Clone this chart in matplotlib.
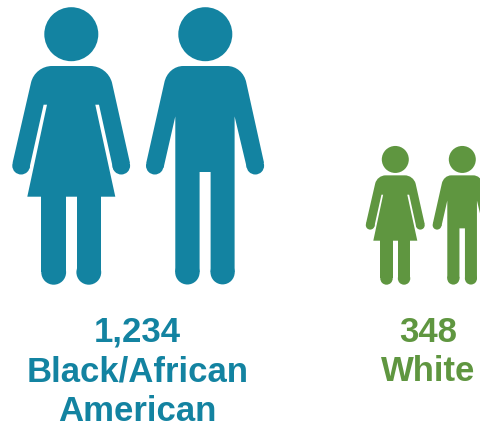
import matplotlib
matplotlib.use("Agg")
import matplotlib.pyplot as plt
from matplotlib.path import Path
from matplotlib.patches import PathPatch, Circle
from matplotlib.transforms import Affine2D

categories = ["Black/African\nAmerican", "White"]
counts = [1234, 348]
colors = ["#1383A1", "#5F9640"]
icon_scale = [1.0, 0.5]
icon_left = [0.0, 359.5]

BASE = 285.0
SHIFT = 0.7
M, L, C, Z = Path.MOVETO, Path.LINETO, Path.CURVE4, Path.CLOSEPOLY


def to_local(pts):
    return [(x, y - BASE) for x, y in pts]


woman_body = [
    (M, (51.7, 66.3)), (L, (90, 66.3)),
    (C, (100, 66.3)), (C, (109, 73)), (C, (111.7, 83)),
    (L, (129.6, 163)), (L, (113, 170)), (L, (98.7, 105)), (L, (95, 105)),
    (L, (115, 197)), (L, (27, 197)), (L, (46.7, 105)), (L, (43.3, 105)),
    (L, (29, 169)), (L, (12.3, 163)), (L, (30.7, 83)),
    (C, (33, 73)), (C, (42, 66.3)), (C, (51.7, 66.3)),
]
woman_legs = [
    (M, (41, 190)), (L, (65.8, 190)), (L, (65.8, 272.5)), (L, (41, 272.5)), (L, (41, 190)),
    (M, (76.3, 190)), (L, (100.8, 190)), (L, (100.8, 272.5)), (L, (76.3, 272.5)), (L, (76.3, 190)),
]
woman_round = [((71, 34.5), 27), ((20.8, 166), 8.8), ((121, 166), 8.8),
               ((53.4, 272.6), 12.4), ((88.5, 272.6), 12.4)]

man_body = [
    (M, (183, 66.3)), (L, (226.7, 66.3)),
    (C, (236, 66.3)), (C, (244, 73)), (C, (246, 83)),
    (L, (263.7, 163)), (L, (246.5, 168)), (L, (234.3, 116.7)),
    (L, (234.3, 272.5)), (L, (210.3, 272.5)), (L, (210.3, 172.3)),
    (L, (199.3, 172.3)), (L, (199.3, 272.5)), (L, (175, 272.5)),
    (L, (175, 116.7)), (L, (163.3, 168)), (L, (146, 163)), (L, (164, 83)),
    (C, (166, 73)), (C, (174, 66.3)), (C, (183, 66.3)),
]
man_round = [((205, 34.5), 27), ((154.5, 166), 8.8), ((255, 166), 8.8),
             ((187.1, 272.6), 12.2), ((222.3, 272.6), 12.1)]

GROUP_CENTER = 137.5

fig = plt.figure(figsize=(4.81, 4.27), dpi=100, facecolor="white")
ax = fig.add_axes([0, 0, 1, 1])
ax.set_xlim(0, 481)
ax.set_ylim(427, 0)
ax.axis("off")


def draw_shape(spec, tr, color):
    codes = [c for c, _ in spec]
    verts = to_local([p for _, p in spec])
    ax.add_patch(PathPatch(Path(verts, codes), facecolor=color, edgecolor="none",
                           lw=0, transform=tr))


for cat, n, col, s, left in zip(categories, counts, colors, icon_scale, icon_left):
    tr = Affine2D().scale(s).translate(left + 0.3, BASE + SHIFT) + ax.transData
    for spec in (woman_body, woman_legs, man_body):
        draw_shape(spec, tr, col)
    for (cx, cy), r in woman_round + man_round:
        ax.add_patch(Circle((cx, cy - BASE), r, facecolor=col, edgecolor="none",
                            lw=0, transform=tr))
    lines = [f"{n:,}"] + cat.split("\n")
    xc = left + s * GROUP_CENTER
    for i, line in enumerate(lines):
        ax.text(xc, 342 + 39.5 * i, line, color=col, ha="center", va="baseline",
                fontsize=25, fontweight="bold", family="Liberation Sans")

fig.savefig("out.png", dpi=100, facecolor="white")
